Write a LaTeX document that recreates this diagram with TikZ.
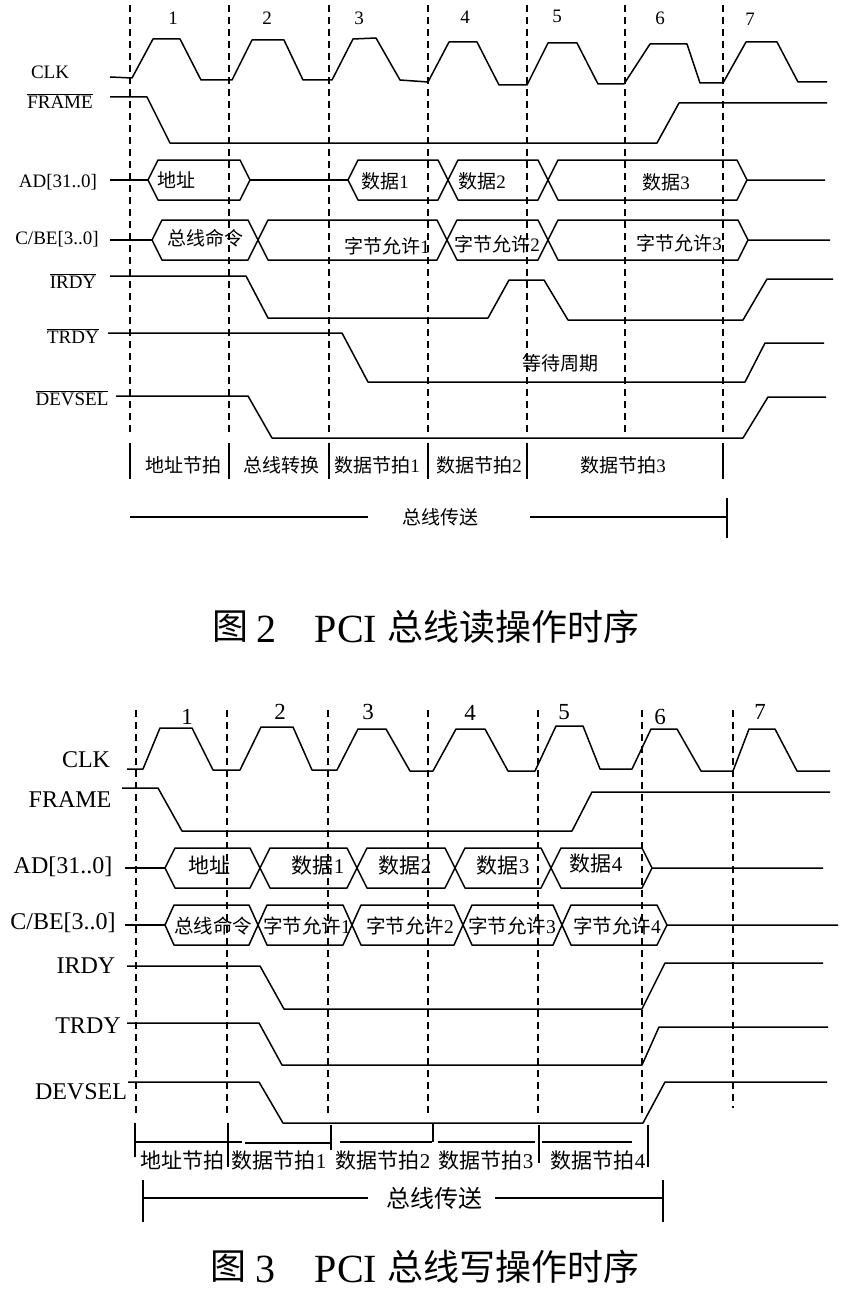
\documentclass[tikz,border=0pt]{standalone}
\usepackage{fontspec}
\setmainfont{Liberation Serif}
\newfontfamily\cjk{Noto Sans CJK SC}
\newcommand\ovl[1]{$\overline{\hbox{#1}}$}
\tikzset{
  wave/.style={line width=1.5pt, line join=round},
  gridline/.style={line width=1.2pt, dash pattern=on 7pt off 5pt},
  bar/.style={line width=1.4pt},
  sigA/.style={inner sep=0pt, font=\fontsize{19}{20}\selectfont},
  sigB/.style={inner sep=0pt, font=\fontsize{24}{25}\selectfont},
  numA/.style={inner sep=0pt, font=\fontsize{19}{20}\selectfont},
  numB/.style={inner sep=0pt, font=\fontsize{23}{24}\selectfont},
  zhA/.style={inner sep=0pt, font=\fontsize{19}{20}\selectfont},
  zhB/.style={inner sep=0pt, font=\fontsize{21}{22}\selectfont},
  zhBs/.style={inner sep=0pt, font=\fontsize{19.5}{20}\selectfont},
  capzh/.style={inner sep=0pt, font=\fontsize{36}{38}\selectfont\cjk},
  caplat/.style={inner sep=0pt, font=\fontsize{40}{42}\selectfont},
}
\begin{document}
\begin{tikzpicture}[x=1pt,y=-1pt]
\useasboundingbox[fill=white] (0,0) rectangle (852,1295);

%%%%%%%%%%%%%%%% FIGURE 2 (read) %%%%%%%%%%%%%%%%
\foreach \x in {130,229,329,428,527,625,723}
  \draw[gridline] (\x,5) -- (\x,435);

\node[numA] (t1) at (173,18) {1};
\node[numA] (t2) at (267,18) {2};
\node[numA] (t3) at (359,18) {3};
\node[numA] (t4) at (465,17) {4};
\node[numA] (t5) at (557,16) {5};
\node[numA] (t6) at (660,18) {6};
\node[numA] (t7) at (750,19) {7};

\node[sigA] (aclk) at (50,72) {CLK};
\node[sigA] (aframe) at (60,101) {\ovl{FRAME}};
\node[sigA] (aad) at (58,182) {AD[31..0]};
\node[sigA] (acbe) at (57,239) {C/BE[3..0]};
\node[sigA] (airdy) at (73,281) {\ovl{IRDY}};
\node[sigA] (atrdy) at (73,336) {\ovl{TRDY}};
\node[sigA] (adevsel) at (72,398) {\ovl{DEVSEL}};

% CLK
\draw[wave] (110,77) -- (132,78) -- (153,39) -- (180,39) -- (201,80) -- (232,80)
  -- (252,40) -- (284,40) -- (303,80) -- (332,80) -- (353,39) -- (376,38)
  -- (400,80) -- (428,82) -- (449,42) -- (477,42) -- (499,85) -- (527,85)
  -- (548,43) -- (577,43) -- (598,84) -- (624,84) -- (650,44) -- (687,44)
  -- (700,83) -- (723,83) -- (746,42) -- (777,42) -- (798,82) -- (827,82);
% FRAME
\draw[wave] (110,97) -- (147,97) -- (170,143) -- (657,143) -- (679,103) -- (827,103);
% AD
\draw[wave] (110,180) -- (148,180);
\draw[wave] (148,180) -- (158,160) -- (240,160) -- (250,180) -- (240,200) -- (158,200) -- cycle;
\draw[wave] (250,180) -- (348,180);
\draw[wave] (348,180) -- (358,160) -- (438,160) -- (458,200) -- (538,200) -- (558,160) -- (737,160) -- (747,180) -- (825,180);
\draw[wave] (348,180) -- (358,200) -- (438,200) -- (458,160) -- (538,160) -- (558,200) -- (737,200) -- (747,180);
\node[zhA] (ad0) at (176,180) {\cjk 地址};
\node[zhA] (ad1) at (385,181) {{\cjk 数据}1};
\node[zhA] (ad2) at (482,181) {{\cjk 数据}2};
\node[zhA] (ad3) at (666,182) {{\cjk 数据}3};
% C/BE
\draw[wave] (110,240) -- (152,240);
\draw[wave] (152,240) -- (162,220) -- (248,220) -- (268,260) -- (437,260) -- (457,220) -- (538,220) -- (558,260) -- (738,260) -- (748,240) -- (830,240);
\draw[wave] (152,240) -- (162,260) -- (248,260) -- (268,220) -- (437,220) -- (457,260) -- (538,260) -- (558,220) -- (738,220) -- (748,240);
\node[zhA] (cb0) at (205,238) {\cjk 总线命令};
\node[zhA] (cb1) at (387,246) {{\cjk 字节允许}1};
\node[zhA] (cb2) at (497,244) {{\cjk 字节允许}2};
\node[zhA] (cb3) at (679,243) {{\cjk 字节允许}3};
% IRDY
\draw[wave] (110,276) -- (246,276) -- (268,318) -- (488,318) -- (509,280) -- (544,280) -- (568,320) -- (743,320) -- (767,279) -- (833,279);
% TRDY
\draw[wave] (108,333) -- (342,333) -- (368,382) -- (745,382) -- (765,343) -- (824,343);
\node[zhA] (wait) at (560,363) {\cjk 等待周期};
% DEVSEL
\draw[wave] (116,396) -- (248,396) -- (272,438) -- (743,438) -- (768,397) -- (826,397);

% phases
\foreach \x in {130,229,329,428,527,723}
  \draw[bar] (\x,443) -- (\x,479);
\node[zhA] (pa1) at (183,465) {\cjk 地址节拍};
\node[zhA] (pa2) at (281,465) {\cjk 总线转换};
\node[zhA] (pa3) at (377,465) {{\cjk 数据节拍}1};
\node[zhA] (pa4) at (479,465) {{\cjk 数据节拍}2};
\node[zhA] (pa5) at (623,465) {{\cjk 数据节拍}3};

\node[zhA] (busa) at (440,517) {\cjk 总线传送};
\coordinate (busaL) at (130,517);
\coordinate (busaR) at (727,517);
\draw[bar] (busaL) -- (368,517);
\draw[bar] (530,517) -- (busaR);
\draw[bar] (727,498) -- (727,538);

\node[capzh] (cap2a) at (230,627) {图};
\node[caplat] (cap2b) at (266,629) {2};
\node[caplat] (cap2c) at (346,629) {PCI};
\node[capzh] (cap2d) at (513,627) {总线读操作时序};

%%%%%%%%%%%%%%%% FIGURE 3 (write) %%%%%%%%%%%%%%%%
\foreach \x in {136,227,328,428,538,642}
  \draw[gridline] (\x,710) -- (\x,1117);
\draw[gridline] (733,710) -- (733,1108);

\node[numB] (b1) at (187,717) {1};
\node[numB] (b2) at (280,712) {2};
\node[numB] (b3) at (368,712) {3};
\node[numB] (b4) at (470,713) {4};
\node[numB] (b5) at (564,712) {5};
\node[numB] (b6) at (660,717) {6};
\node[numB] (b7) at (760,712) {7};

\node[sigB] (bclk) at (86,760) {CLK};
\node[sigB] (bframe) at (70,800) {FRAME};
\node[sigB] (bad) at (63,867) {AD[31..0]};
\node[sigB] (bcbe) at (63,923) {C/BE[3..0]};
\node[sigB] (birdy) at (86,966) {IRDY};
\node[sigB] (btrdy) at (88,1026) {TRDY};
\node[sigB] (bdevsel) at (81,1092) {DEVSEL};

% CLK
\draw[wave] (127,769) -- (143,769) -- (160,728) -- (192,728) -- (213,770) -- (240,770)
  -- (261,727) -- (293,727) -- (312,770) -- (337,770) -- (358,729) -- (386,729)
  -- (410,771) -- (433,771) -- (456,729) -- (485,729) -- (508,771) -- (535,771)
  -- (556,726) -- (583,726) -- (600,769) -- (632,769) -- (651,729) -- (677,729)
  -- (701,771) -- (733,771) -- (749,729) -- (775,729) -- (797,771) -- (830,771);
% FRAME
\draw[wave] (122,788) -- (158,788) -- (182,831) -- (572,831) -- (592,792) -- (830,792);
% AD
\draw[wave] (125,868) -- (165,868);
\draw[wave] (165,868) -- (175,848) -- (250,848) -- (270,888) -- (347,888) -- (367,848) -- (445,848) -- (465,888) -- (541,888) -- (561,848) -- (642,848) -- (652,868) -- (823,868);
\draw[wave] (165,868) -- (175,888) -- (250,888) -- (270,848) -- (347,848) -- (367,888) -- (445,888) -- (465,848) -- (541,848) -- (561,888) -- (642,888) -- (652,868);
\node[zhB] (bd0) at (209,865) {\cjk 地址};
\node[zhB] (bd1) at (318,866) {{\cjk 数据}1};
\node[zhB] (bd2) at (405,866) {{\cjk 数据}2};
\node[zhB] (bd3) at (503,866) {{\cjk 数据}3};
\node[zhB] (bd4) at (596,864) {{\cjk 数据}4};
% C/BE
\draw[wave] (125,925) -- (165,925);
\draw[wave] (165,925) -- (174,905) -- (249,905) -- (267,945) -- (343,945) -- (361,905) -- (454,905) -- (472,945) -- (553,945) -- (571,905) -- (657,905) -- (667,925) -- (838,925);
\draw[wave] (165,925) -- (174,945) -- (249,945) -- (267,905) -- (343,905) -- (361,945) -- (454,945) -- (472,905) -- (553,905) -- (571,945) -- (657,945) -- (667,925);
\node[zhBs] (bc0) at (213,926) {\cjk 总线命令};
\node[zhBs] (bc1) at (307,926) {{\cjk 字节允许}1};
\node[zhBs] (bc2) at (410,926) {{\cjk 字节允许}2};
\node[zhBs] (bc3) at (512,926) {{\cjk 字节允许}3};
\node[zhBs] (bc4) at (617,926) {{\cjk 字节允许}4};
% IRDY
\draw[wave] (127,966) -- (260,966) -- (284,1009) -- (642,1009) -- (665,963) -- (823,963);
% TRDY
\draw[wave] (127,1023) -- (259,1023) -- (282,1065) -- (642,1065) -- (659,1027) -- (828,1027);
% DEVSEL
\draw[wave] (128,1082) -- (259,1082) -- (283,1123) -- (643,1123) -- (665,1082) -- (827,1082);

% phases
\draw[bar] (135,1123) -- (135,1157);
\draw[bar] (228,1123) -- (228,1167);
\draw[bar] (331,1125) -- (331,1150);
\draw[bar] (433,1123) -- (433,1142);
\draw[bar] (539,1125) -- (539,1163);
\draw[bar] (648,1125) -- (648,1167);
\draw[bar] (135,1142) -- (242,1142);
\draw[bar] (245,1143) -- (330,1143);
\draw[bar] (340,1142) -- (432,1142);
\draw[bar] (438,1142) -- (535,1142);
\draw[bar] (542,1142) -- (632,1142);
\node[zhB] (pb1) at (182,1161) {\cjk 地址节拍};
\node[zhB] (pb2) at (279,1161) {{\cjk 数据节拍}1};
\node[zhB] (pb3) at (383,1161) {{\cjk 数据节拍}2};
\node[zhB] (pb4) at (486,1161) {{\cjk 数据节拍}3};
\node[zhB] (pb5) at (598,1161) {{\cjk 数据节拍}4};

\node[inner sep=0pt, font=\fontsize{24}{25}\selectfont\cjk] (busb) at (434,1198) {总线传送};
\coordinate (busbL) at (143,1198);
\coordinate (busbR) at (663,1198);
\draw[bar] (busbL) -- (368,1198);
\draw[bar] (495,1198) -- (busbR);
\draw[bar] (143,1180) -- (143,1222);
\draw[bar] (663,1180) -- (663,1222);

\node[capzh] (cap3a) at (228,1267) {图};
\node[caplat] (cap3b) at (265,1269) {3};
\node[caplat] (cap3c) at (346,1269) {PCI};
\node[capzh] (cap3d) at (513,1267) {总线写操作时序};
\end{tikzpicture}
\end{document}
